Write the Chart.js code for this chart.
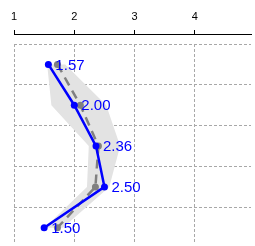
<!DOCTYPE html>
<html>
<head>
<meta charset="utf-8">
<script src="https://cdn.jsdelivr.net/npm/chart.js@4"></script>
<style>
  html, body { margin: 0; padding: 0; background: #fff; }
  canvas { display: block; }
</style>
</head>
<body>
<canvas id="profile" width="255" height="246"></canvas>
<script>
// rows, top to bottom
var rows = [1, 2, 3, 4, 5];
// blue profile (labelled values)
var studentVals = [1.57, 2.00, 2.36, 2.50, 1.50];
// gray dashed reference profile
var groupVals = [1.72, 2.10, 2.40, 2.35, 1.72];
// gray band, lower and upper edge per row
var bandLow = [1.55, 1.62, 2.24, 2.21, 1.51];
var bandHigh = [1.85, 2.53, 2.76, 2.58, 1.81];
// axis ticks
var xTicks = [1, 2, 3, 4];
var rowLines = [0.5, 1.5, 2.5, 3.5, 4.5];

function pts(vals) {
    return vals.map(function (v, i) {
        return { x: v, y: rows[i] };
    });
}

var bandPts = pts(bandLow).concat(pts(bandHigh).reverse());
bandPts.push(bandPts[0]);

const valueLabels = {
    id: "valueLabels",
    afterDatasetsDraw(chart) {
        const ctx = chart.ctx;
        const meta = chart.getDatasetMeta(2);
        ctx.save();
        ctx.font = '15px "Liberation Sans", Arial, sans-serif';
        ctx.fillStyle = "#0000ff";
        ctx.textBaseline = "middle";
        ctx.textAlign = "left";
        meta.data.forEach(function (pt, i) {
            ctx.fillText(studentVals[i].toFixed(2), pt.x + 7, pt.y + 1);
        });
        ctx.restore();
    },
};

function setXTicks(scale) {
    scale.ticks = xTicks.map(function (v) { return { value: v }; });
}

new Chart(document.getElementById("profile"), {
    type: "line",
    data: {
        datasets: [
            {
                data: bandPts,
                fill: "shape",
                backgroundColor: "#e3e3e3",
                borderColor: "transparent",
                borderWidth: 0,
                pointRadius: 0,
                order: 3,
            },
            {
                data: pts(groupVals),
                borderColor: "#808080",
                backgroundColor: "#808080",
                borderWidth: 2.5,
                borderDash: [9, 6],
                pointRadius: 3.5,
                pointBorderWidth: 0,
                order: 2,
            },
            {
                data: pts(studentVals),
                borderColor: "#0000ff",
                backgroundColor: "#0000ff",
                borderWidth: 2.5,
                pointRadius: 3.5,
                pointBorderWidth: 0,
                order: 1,
            },
        ],
    },
    options: {
        responsive: false,
        animation: false,
        layout: { padding: { left: 14, right: 0, top: 0, bottom: 3 } },
        plugins: {
            legend: { display: false },
            tooltip: { enabled: false },
        },
        scales: {
            // dashed vertical grid, sits right on the plot
            x: {
                type: "linear",
                position: "top",
                min: 1,
                max: 4.93,
                weight: 0,
                afterBuildTicks: setXTicks,
                afterFit: function (s) { s.height = 10; },
                ticks: { display: false },
                grid: { color: "#a8a8a8", lineWidth: 1, drawTicks: false },
                border: { display: false, dash: [3, 2] },
            },
            // the black axis above it
            x2: {
                type: "linear",
                position: "top",
                min: 1,
                max: 4.93,
                weight: 1,
                afterBuildTicks: setXTicks,
                afterFit: function (s) { s.height = 34; },
                ticks: {
                    color: "#000",
                    padding: 6,
                    maxRotation: 0,
                    font: { size: 11, family: '"Liberation Sans", Arial, sans-serif' },
                },
                grid: { drawOnChartArea: false, drawTicks: true, tickLength: 4, color: "#000", lineWidth: 1 },
                border: { display: true, color: "#000", width: 1 },
            },
            y: {
                type: "linear",
                reverse: true,
                min: 0.5,
                max: 5.35,
                afterBuildTicks: function (s) {
                    s.ticks = rowLines.map(function (v) { return { value: v }; });
                },
                afterFit: function (s) { s.width = 0; },
                ticks: { display: false },
                grid: { color: "#a8a8a8", lineWidth: 1, drawTicks: false },
                border: { display: false, dash: [3, 2] },
            },
        },
    },
    plugins: [valueLabels],
});
</script>
</body>
</html>
